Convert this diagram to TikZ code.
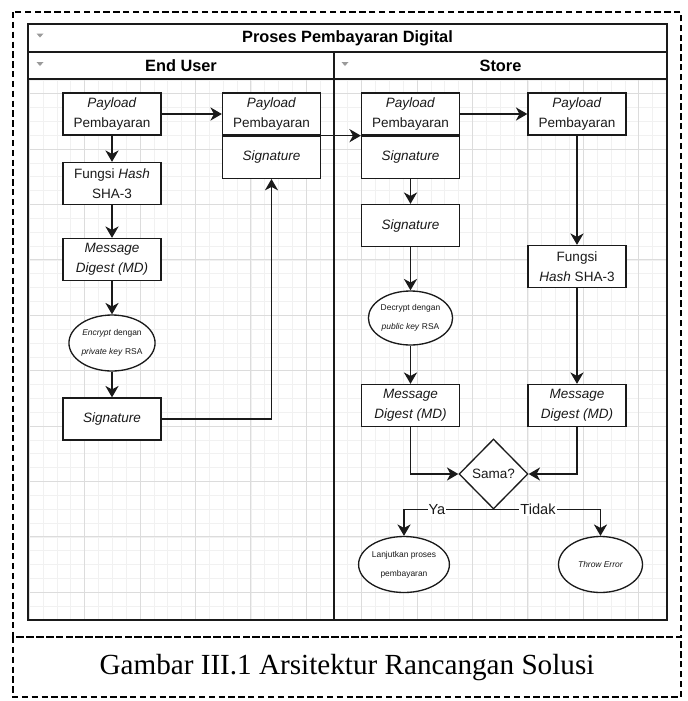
\documentclass[tikz,border=0pt]{standalone}
\usepackage{fontspec}
\setmainfont{Liberation Sans}
\newfontfamily\captionserif{Liberation Serif}
\usepackage{xcolor}
\definecolor{FlowInk}{HTML}{1A1A1A}
\definecolor{GridMinor}{HTML}{F1F1F1}
\definecolor{GridMajor}{HTML}{DCDCDC}
\definecolor{FoldGray}{HTML}{9A9A9A}
\usepackage{tikz}
\usetikzlibrary{arrows.meta,positioning,shapes.geometric}

\begin{document}
\begin{tikzpicture}[
  x=0.02cm,y=-0.02cm,
  box/.style={draw=FlowInk,line width=0.75pt,fill=white,minimum width=1.96cm,minimum height=0.84cm,inner sep=1pt,align=center,text=FlowInk,font=\fontsize{7.7}{11.3}\selectfont},
  oval/.style={ellipse,draw=FlowInk,line width=0.75pt,fill=white,minimum width=1.68cm,minimum height=1.12cm,inner sep=0pt,align=center,text=FlowInk,font=\fontsize{4.8}{10.8}\selectfont},
  decision/.style={diamond,aspect=1,draw=FlowInk,line width=0.75pt,fill=white,minimum width=1.38cm,minimum height=1.4cm,inner sep=0pt,text=FlowInk,font=\fontsize{7.7}{9}\selectfont},
  flow/.style={-{Stealth[length=6.5pt,width=7.5pt,inset=2pt]},draw=FlowInk,line width=0.85pt},
  lane/.style={draw=FlowInk,line width=1pt},
  head/.style={text=black,font=\fontsize{9.3}{11}\selectfont\bfseries},
  tag/.style={fill=white,inner sep=0.6pt,text=FlowInk,font=\fontsize{8.3}{10}\selectfont},
  fold/.style={fill=FoldGray},
  frame/.style={draw=black,line width=1.1pt,dash pattern=on 3.6pt off 2pt}
]
\useasboundingbox[fill=white] (0,0) rectangle (688,701);

% grid behind the lanes
\begin{scope}
  \clip (28,79) rectangle (667,620);
  \foreach \i in {0,...,46} \draw[GridMinor,line width=0.4pt] ({29.3+13.85*\i},79) -- ({29.3+13.85*\i},620);
  \foreach \i in {3,...,42} \draw[GridMinor,line width=0.4pt] (28,{38.3+13.85*\i}) -- (667,{38.3+13.85*\i});
  \foreach \i in {0,...,11} \draw[GridMajor,line width=0.5pt] ({29.3+55.4*\i},79) -- ({29.3+55.4*\i},620);
  \foreach \i in {1,...,10} \draw[GridMajor,line width=0.5pt] (28,{38.3+55.4*\i}) -- (667,{38.3+55.4*\i});
\end{scope}

% pool and lanes
\draw[lane] (28,24) rectangle (667,620);
\draw[lane] (28,52) -- (667,52);
\draw[lane] (28,79) -- (667,79);
\draw[lane] (334,52) -- (334,620);
\node[head] (pool) at (347.5,38) {Proses Pembayaran Digital};
\node[head] (user) at (181,65.5) {End User};
\node[head] (store) at (500.5,65.5) {Store};
\fill[fold] (36.5,33.5) -- (43.5,33.5) -- (40,37.5) -- cycle;
\fill[fold] (36.5,62) -- (43.5,62) -- (40,66) -- cycle;
\fill[fold] (341.5,62) -- (348.5,62) -- (345,66) -- cycle;

% end user lane
\node[box] (p1) at (112,114) {\textit{Payload}\\Pembayaran};
\node[box] (hash1) at (112,183.5) {Fungsi \textit{Hash}\\SHA-3};
\node[box] (md1) at (112,259.5) {\textit{Message}\\\textit{Digest (MD)}};
\node[oval] (enc) at (112,343) {\textit{Encrypt} dengan\\\textit{private key} RSA};
\node[box] (sig1) at (112,419) {\textit{Signature}};
\node[box] (p2a) at (271.5,114) {\textit{Payload}\\Pembayaran};
\node[box,below=0pt of p2a] (p2b) {\textit{Signature}};

% store lane
\node[box] (s1a) at (410.5,114) {\textit{Payload}\\Pembayaran};
\node[box,below=0pt of s1a] (s1b) {\textit{Signature}};
\node[box] (s2) at (577,114) {\textit{Payload}\\Pembayaran};
\node[box] (sig2) at (410.5,225.5) {\textit{Signature}};
\node[box] (hash2) at (577,266.5) {Fungsi\\\textit{Hash} SHA-3};
\node[oval,minimum height=1.08cm] (dec) at (410.5,318) {Decrypt dengan\\\textit{public key} RSA};
\node[box] (md2) at (410.5,405.5) {\textit{Message}\\\textit{Digest (MD)}};
\node[box] (md3) at (577,405.5) {\textit{Message}\\\textit{Digest (MD)}};
\node[decision] (sama) at (493.5,474) {Sama?};
\node[oval] (lanjut) at (404,564.5) {Lanjutkan proses\\pembayaran};
\node[oval] (err) at (600.5,564.5) {\textit{Throw Error}};

% connectors
\draw[flow] (p1) -- (p2a);
\draw[flow] (p1) -- (hash1);
\draw[flow] (hash1) -- (md1);
\draw[flow] (md1) -- (enc);
\draw[flow] (enc) -- (sig1);
\draw[flow] (sig1.east) -| (p2b.south);
\draw[flow] (p2a.south east) -- (s1a.south west);
\draw[flow] (s1a) -- (s2);
\draw[flow] (s1b) -- (sig2);
\draw[flow] (sig2) -- (dec);
\draw[flow] (dec) -- (md2);
\draw[flow] (s2) -- (hash2);
\draw[flow] (hash2) -- (md3);
\draw[flow] (md2.south) |- (sama.west);
\draw[flow] (md3.south) |- (sama.east);
\draw[flow] (sama.south) -| node[tag,pos=0.316] {Ya} (lanjut.north);
\draw[flow] (sama.south) -| node[tag,pos=0.208] {Tidak} (err.north);

% figure frame and caption
\draw[frame] (13,12) rectangle (681,637);
\draw[frame] (13,637) rectangle (681,697);
\node[font=\captionserif\fontsize{16.6}{20}\selectfont] (caption) at (347,668) {Gambar III.1 Arsitektur Rancangan Solusi};
\end{tikzpicture}
\end{document}
